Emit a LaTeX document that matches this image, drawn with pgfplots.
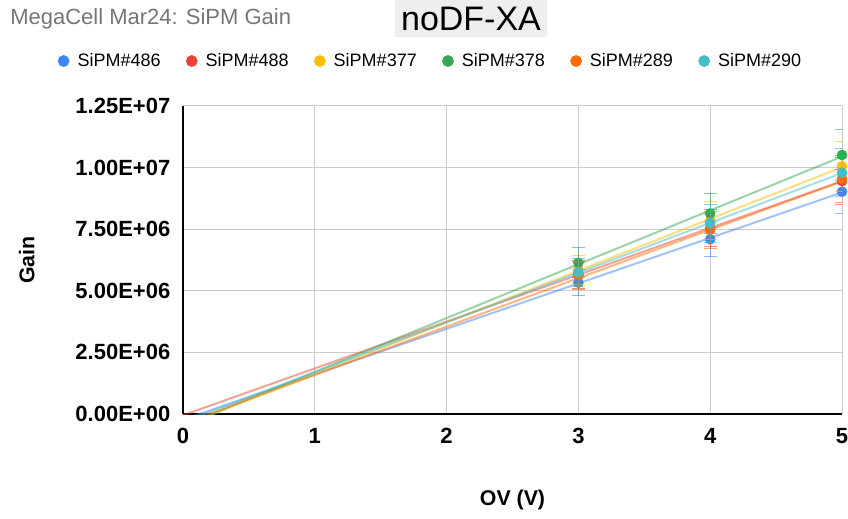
\documentclass[border=0pt]{standalone}
\usepackage{pgfplots}
\usepackage{pgfplotstable}
\pgfplotsset{compat=1.18}
\usepackage{fontspec}
\setmainfont{Liberation Sans}
\definecolor{cBlue}{HTML}{4285F4}
\definecolor{cRed}{HTML}{EA4335}
\definecolor{cYellow}{HTML}{FBBC04}
\definecolor{cGreen}{HTML}{34A853}
\definecolor{cOrange}{HTML}{FF6D01}
\definecolor{cCyan}{HTML}{46BDC6}
\definecolor{titlegray}{HTML}{757575}
\definecolor{boxgray}{HTML}{EEEEEE}
\definecolor{gridgray}{HTML}{CCCCCC}

\pgfplotstableread{
x y e
3 5330000 533000
4 7090000 709000
5 9020000 902000
}\dataA
\pgfplotstableread{
x y e
3 5650000 565000
4 7550000 755000
5 9450000 945000
}\dataB
\pgfplotstableread{
x y e
3 5850000 585000
4 7850000 785000
5 10050000 1005000
}\dataC
\pgfplotstableread{
x y e
3 6140000 614000
4 8140000 814000
5 10510000 1051000
}\dataD
\pgfplotstableread{
x y e
3 5620000 562000
4 7470000 747000
5 9550000 955000
}\dataE
\pgfplotstableread{
x y e
3 5750000 575000
4 7740000 774000
5 9790000 979000
}\dataF

\pgfplotsset{
  pts/.style={color=#1, only marks, mark=*, mark size=3.75pt,
    mark options={solid, fill=#1, draw=#1},
    error bars/.cd, y dir=both, y explicit,
    error bar style={draw=#1, opacity=0.6, line width=0.75pt},
    error mark options={rotate=90, mark size=5pt, draw=#1, opacity=0.6, line width=0.75pt}},
  trend/.style={draw=#1, opacity=0.5, line width=1.5pt, forget plot, no marks}
}

\begin{document}
\begin{tikzpicture}
\useasboundingbox (0,0) rectangle (636pt,388.5pt);
\node[anchor=west, text=titlegray, inner sep=0pt] at (7.5pt,374.5pt) {\fontsize{16.5}{18}\selectfont MegaCell Mar24: SiPM Gain};
\node[fill=boxgray, anchor=north, inner sep=0pt, minimum width=114pt, minimum height=27.75pt] at (353.25pt,388.5pt) {\fontsize{25.5}{28}\selectfont noDF-XA};
\begin{axis}[
  at={(137.25pt,78pt)}, anchor=south west,
  width=494.25pt, height=231pt, scale only axis,
  xmin=0, xmax=5, ymin=0, ymax=12500000,
  axis x line*=bottom, axis y line*=left,
  axis line style={black, line width=1.2pt},
  grid=major, grid style={draw=gridgray, line width=0.75pt},
  major tick length=0pt,
  xtick={0,1,2,3,4,5}, xticklabels={0,1,2,3,4,5},
  ytick={0,2500000,5000000,7500000,10000000,12500000},
  yticklabels={0.00E+00,2.50E+06,5.00E+06,7.50E+06,1.00E+07,1.25E+07},
  scaled y ticks=false,
  ticklabel style={font=\fontsize{16.5}{18}\selectfont\bfseries, black},
  yticklabel style={xshift=-6pt},
  xticklabel style={yshift=-7pt},
  xlabel={OV (V)}, ylabel={Gain},
  label style={font=\fontsize{16}{18}\selectfont\bfseries},
  xlabel style={at={(axis description cs:0.5,-0.279)}, anchor=center},
  ylabel style={at={(axis description cs:-0.237,0.5)}, anchor=center},
  clip mode=individual,
  legend columns=6,
  legend image code/.code={\fill[#1] (0.2cm,0cm) circle (4.2pt);},
  legend style={at={(axis description cs:0.376,1.146)}, anchor=center, draw=none, fill=none,
    font=\fontsize{13.5}{15}\selectfont, text=black,
    /tikz/every odd column/.append style={column sep=4pt},
    /tikz/every even column/.append style={column sep=17pt}},
  legend cell align=left,
]
\addplot[trend=cBlue] coordinates {(0,-233000) (5,8992000)};
\addplot[trend=cRed] coordinates {(0,-50000) (5,9450000)};
\addplot[trend=cYellow] coordinates {(0,-483000) (5,10017000)};
\addplot[trend=cGreen] coordinates {(0,-477000) (5,10448000)};
\addplot[trend=cOrange] coordinates {(0,-383000) (5,9442000)};
\addplot[trend=cCyan] coordinates {(0,-320000) (5,9780000)};

\addplot[pts=cBlue] table[x=x, y=y, y error=e] {\dataA};
\addlegendentry{SiPM\#486}
\addplot[pts=cRed] table[x=x, y=y, y error=e] {\dataB};
\addlegendentry{SiPM\#488}
\addplot[pts=cYellow] table[x=x, y=y, y error=e] {\dataC};
\addlegendentry{SiPM\#377}
\addplot[pts=cGreen] table[x=x, y=y, y error=e] {\dataD};
\addlegendentry{SiPM\#378}
\addplot[pts=cOrange] table[x=x, y=y, y error=e] {\dataE};
\addlegendentry{SiPM\#289}
\addplot[pts=cCyan] table[x=x, y=y, y error=e] {\dataF};
\addlegendentry{SiPM\#290}
\end{axis}
\end{tikzpicture}
\end{document}
